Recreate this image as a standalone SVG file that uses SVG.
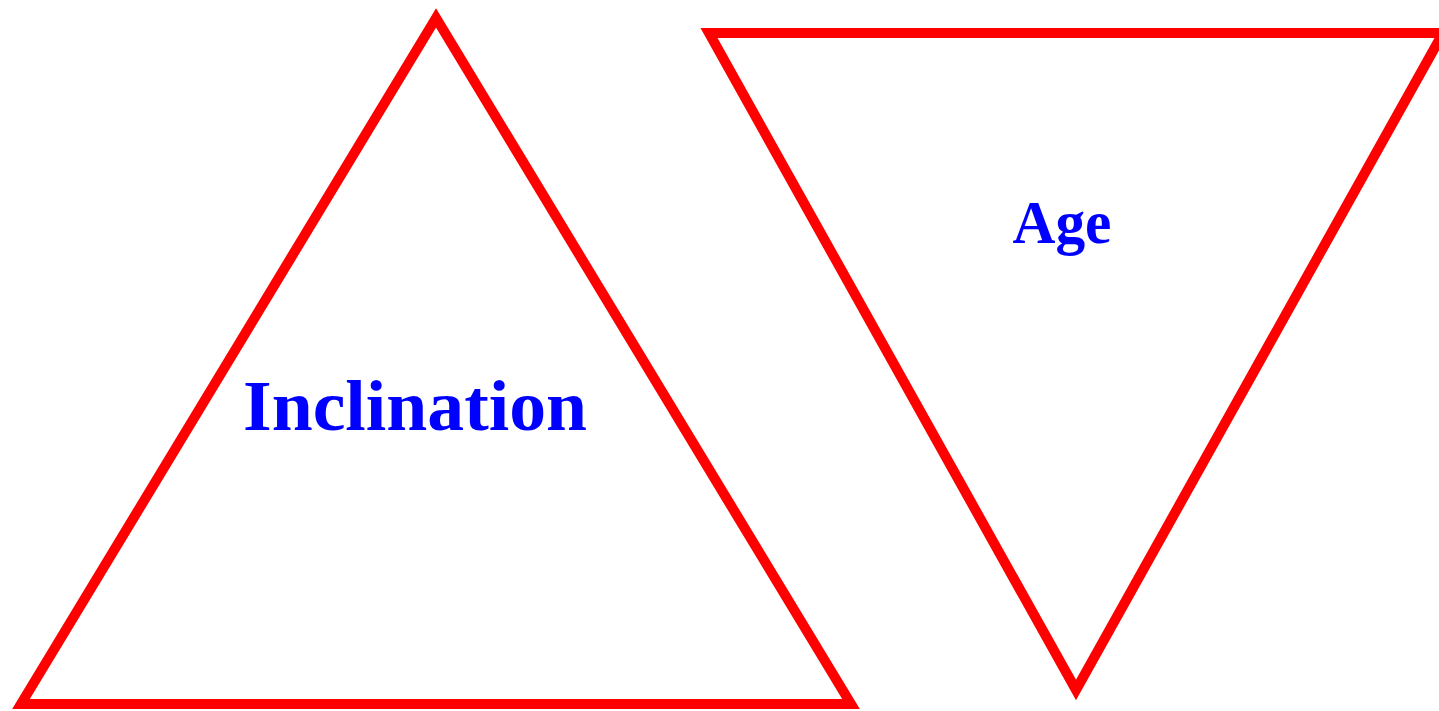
<svg xmlns="http://www.w3.org/2000/svg" width="1439" height="711" viewBox="0 0 1439 711">
  <style>
    .tri { fill: none; stroke: #ff0000; stroke-width: 10; stroke-linejoin: miter; stroke-miterlimit: 10; }
    .lbl { fill: #0000ff; font-family: "Liberation Serif", "Times New Roman", serif; font-weight: bold; text-anchor: middle; }
  </style>
  <rect width="1439" height="711" fill="#ffffff"/>
  <g id="inclination">
    <polygon class="tri" points="436,18 21,704 851,704"/>
    <text class="lbl" x="415" y="430" font-size="72" textLength="344" lengthAdjust="spacingAndGlyphs">Inclination</text>
  </g>
  <g id="age">
    <polygon class="tri" points="709,33 1443,33 1076,690"/>
    <text class="lbl" x="1062" y="243" font-size="61" textLength="99" lengthAdjust="spacingAndGlyphs">Age</text>
  </g>
  <g id="connectors"/>
</svg>
